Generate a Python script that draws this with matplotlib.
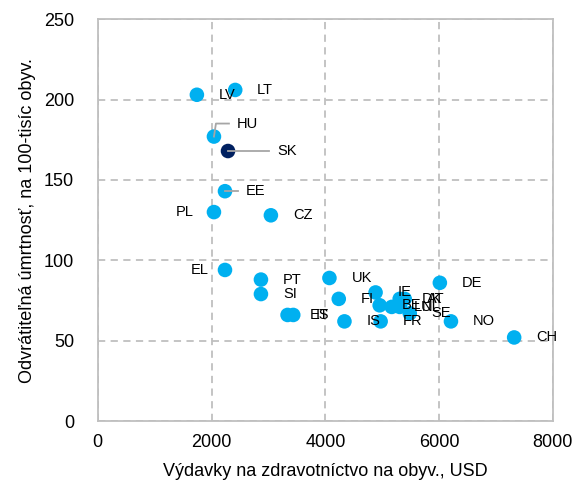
import matplotlib
matplotlib.use("Agg")
import matplotlib.pyplot as plt

plt.rcParams['font.family'] = ['Liberation Sans', 'DejaVu Sans']

# health spending per capita (USD) vs treatable mortality per 100k
countries = ['LV', 'LT', 'HU', 'SK', 'EE', 'PL', 'CZ', 'EL', 'PT', 'SI',
             'ES', 'IT', 'UK', 'FI', 'IS', 'IE', 'FR', 'BE', 'LU', 'NL',
             'DK', 'AT', 'SE', 'DE', 'NO', 'CH']
spending = [1742, 2416, 2042, 2289, 2236, 2042, 3043, 2236, 2868, 2868,
            3336, 3436, 4072, 4236, 4336, 4883, 4972, 4955, 5167, 5307,
            5307, 5395, 5484, 6013, 6208, 7319]
mortality = [203, 206, 177, 168, 143, 130, 128, 94, 88, 79,
             66, 66, 89, 76, 62, 80, 62, 72, 71, 71,
             76, 76, 67, 86, 62, 52]

LIGHT = '#00B0F0'
DARK = '#002060'
GRID = '#BFBFBF'
LEADER = '#A6A6A6'

fig = plt.figure(figsize=(5.82, 4.93), dpi=100)
ax = fig.add_axes([0.168, 0.146, 0.782, 0.815])
ax.set_xlim(0, 8000)
ax.set_ylim(0, 250)

colors = [DARK if c == 'SK' else LIGHT for c in countries]
ax.scatter(spending, mortality, s=110, c=colors, zorder=3, linewidths=0)

# labels placed left of the point
left_labels = {'PL': -20, 'EL': -16}
inv = ax.transData.inverted()

for c, x, y in zip(countries, spending, mortality):
    px, py = ax.transData.transform((x, y))
    if c in left_labels:
        ax.annotate(c, (x, y), xytext=(left_labels[c], 0), textcoords='offset pixels',
                    ha='right', va='center', fontsize=10.5, zorder=4)
    elif c == 'HU':
        pts = inv.transform([(px, py), (px + 2, py + 13), (px + 15, py + 13)])
        ax.plot(pts[:, 0], pts[:, 1], color=LEADER, lw=1.3, zorder=4)
        ax.annotate(c, (x, y), xytext=(23, 13), textcoords='offset pixels',
                    ha='left', va='center', fontsize=10.5, zorder=4)
    elif c in ('SK', 'EE'):
        dx = 41 if c == 'SK' else 13
        pts = inv.transform([(px, py), (px + dx, py)])
        ax.plot(pts[:, 0], pts[:, 1], color=LEADER, lw=1.3, zorder=4)
        ax.annotate(c, (x, y), xytext=(dx + 8, 0), textcoords='offset pixels',
                    ha='left', va='center', fontsize=10.5, zorder=4)
    else:
        ax.annotate(c, (x, y), xytext=(22, 0), textcoords='offset pixels',
                    ha='left', va='center', fontsize=10.5, zorder=4)

ax.set_xticks([0, 2000, 4000, 6000, 8000])
ax.set_yticks([0, 50, 100, 150, 200, 250])
ax.tick_params(length=0, labelsize=13, pad=9)
ax.tick_params(axis='y', pad=17)

ax.grid(True, color=GRID, linestyle=(0, (4, 3)), linewidth=1.3)
ax.set_axisbelow(True)
for sp in ax.spines.values():
    sp.set_color(GRID)
    sp.set_linewidth(1.3)

ax.set_xlabel('Výdavky na zdravotníctvo na obyv., USD', fontsize=13, labelpad=9)
ax.set_ylabel('Odvrátiteľná úmrtnosť, na 100-tisíc obyv.', fontsize=13, labelpad=6)

fig.savefig('out.png', dpi=100)
